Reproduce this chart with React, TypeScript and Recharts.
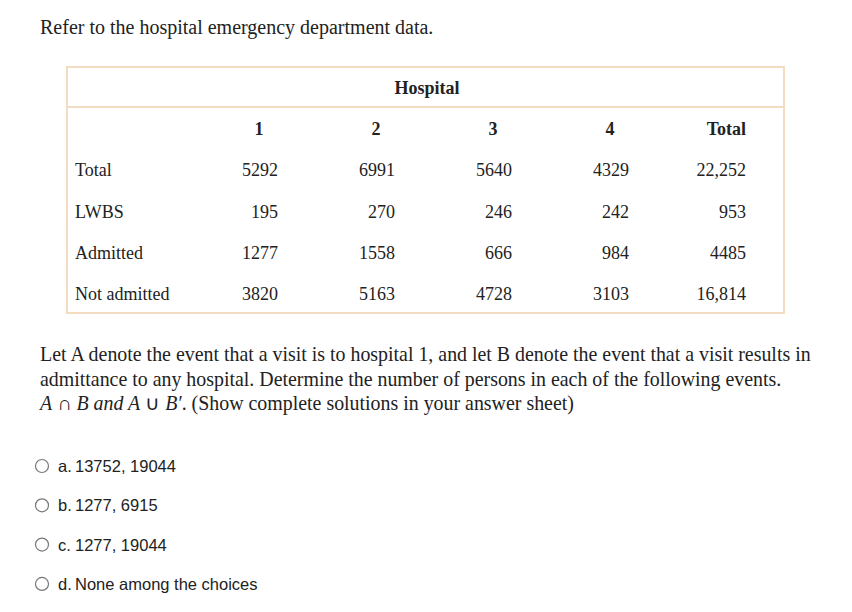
import React from "react";
import { Surface, Layer, Text, Rectangle, Dot } from "recharts";

const hospitals = ["1", "2", "3", "4", "Total"];
const rowLabels = ["Total", "LWBS", "Admitted", "Not admitted"];
const totalVisits = [5292, 6991, 5640, 4329, 22252];
const lwbs = [195, 270, 246, 242, 953];
const admitted = [1277, 1558, 666, 984, 4485];
const notAdmitted = [3820, 5163, 4728, 3103, 16814];
const rows = [totalVisits, lwbs, admitted, notAdmitted];

const questionLines = [
	"Let A denote the event that a visit is to hospital 1, and let B denote the event that a visit results in",
	"admittance to any hospital. Determine the number of persons in each of the following events.",
];
const choiceLetters = ["a.", "b.", "c.", "d."];
const choiceTexts = ["13752, 19044", "1277, 6915", "1277, 19044", "None among the choices"];

const SERIF = "'Liberation Serif', 'Times New Roman', serif";
const SANS = "'Liberation Sans', Arial, sans-serif";
const INK = "#222";
const TFS = 18;

const fmt = (n: number) => (n >= 10000 ? n.toLocaleString("en-US") : String(n));

// table geometry
const colRight = (i: number) => 278 + 117 * i;
const rowBase = (i: number) => 135 + 41.3 * i;

const HospitalTable = () => (
	<Layer>
		<Rectangle x={67} y={67} width={717} height={246} fill="#fff" stroke="#f3dcc1" strokeWidth={2} />
		<line x1={67} x2={784} y1={107} y2={107} stroke="#f3dcc1" strokeWidth={2} />
		<Text x={427} y={94} textAnchor="middle" fontFamily={SERIF} fontSize={TFS} fontWeight="bold" fill={INK}>
			Hospital
		</Text>
		{hospitals.map((h, i) =>
			h === "Total" ? (
				<Text key={h} x={colRight(i)} y={rowBase(0)} textAnchor="end" fontFamily={SERIF} fontSize={TFS} fontWeight="bold" fill={INK}>
					{h}
				</Text>
			) : (
				<Text key={h} x={colRight(i) - 19} y={rowBase(0)} textAnchor="middle" fontFamily={SERIF} fontSize={TFS} fontWeight="bold" fill={INK}>
					{h}
				</Text>
			)
		)}
		{rows.map((vals, r) => (
			<Layer key={rowLabels[r]}>
				<Text x={75} y={rowBase(r + 1)} fontFamily={SERIF} fontSize={TFS} fill={INK}>
					{rowLabels[r]}
				</Text>
				{vals.map((v, c) => (
					<Text key={c} x={colRight(c)} y={rowBase(r + 1)} textAnchor="end" fontFamily={SERIF} fontSize={TFS} fill={INK}>
						{fmt(v)}
					</Text>
				))}
			</Layer>
		))}
	</Layer>
);

export default function App() {
	return (
		<div style={{ position: "absolute", left: 0, top: 0, width: 852, height: 612, background: "#fff" }}>
			<Surface width={852} height={612}>
				<Text x={40} y={34} fontFamily={SERIF} fontSize={20} fill={INK}>
					Refer to the hospital emergency department data.
				</Text>
				<HospitalTable />
				{questionLines.map((line, i) => (
					<Text key={i} x={40} y={361 + 24.5 * i} fontFamily={SERIF} fontSize={19.9} fill={INK}>
						{line}
					</Text>
				))}
				<text x={40} y={410} fontFamily={SERIF} fontSize={19.9} fill={INK}>
					<tspan fontStyle="italic">A</tspan>
					<tspan> ∩ </tspan>
					<tspan fontStyle="italic">B and A</tspan>
					<tspan> ∪ </tspan>
					<tspan fontStyle="italic">B′</tspan>
					<tspan>. (Show complete solutions in your answer sheet)</tspan>
				</text>
				{choiceTexts.map((t, i) => {
					const cy = 466 + 39.3 * i;
					return (
						<Layer key={i}>
							<Dot cx={42} cy={cy} r={6.5} fill="#fff" stroke="#777" strokeWidth={1.2} />
							<Text x={58} y={cy + 6} fontFamily={SANS} fontSize={16.5} fill={INK}>
								{choiceLetters[i]}
							</Text>
							<Text x={75} y={cy + 6} fontFamily={SANS} fontSize={16.5} fill={INK}>
								{t}
							</Text>
						</Layer>
					);
				})}
			</Surface>
		</div>
	);
}
